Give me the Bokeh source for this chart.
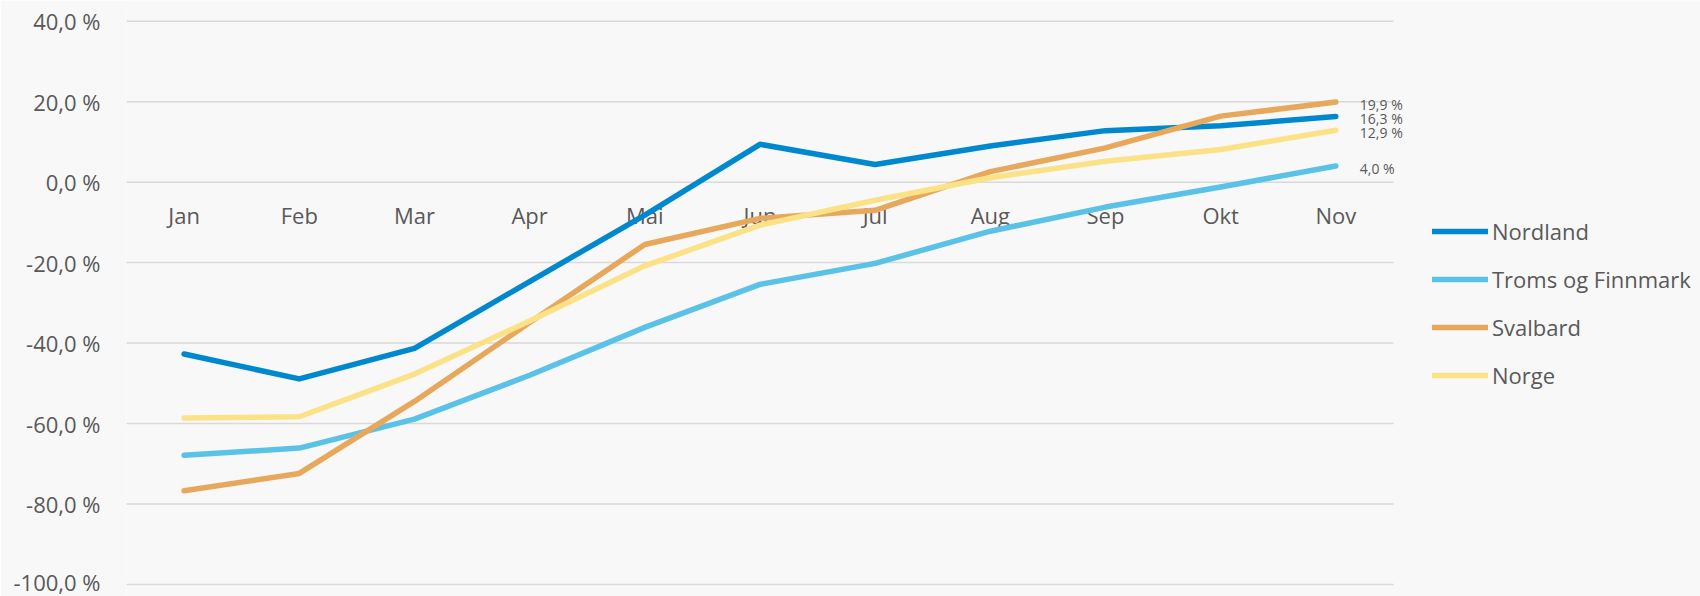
from bokeh.plotting import figure
from bokeh.models import Range1d, FixedTicker, Legend, LegendItem, Label, LinearAxis
from bokeh.embed import file_html
from bokeh.resources import INLINE

months = ["Jan", "Feb", "Mar", "Apr", "Mai", "Jun", "Jul", "Aug", "Sep", "Okt", "Nov"]
nordland = [-42.7, -48.9, -41.3, -24.7, -8.2, 9.4, 4.4, 9.0, 12.8, 14.0, 16.3]
troms = [-67.9, -66.1, -58.9, -48.0, -36.1, -25.4, -20.2, -12.2, -6.2, -1.2, 4.0]
svalbard = [-76.7, -72.4, -54.5, -34.9, -15.5, -9.0, -7.0, 2.6, 8.5, 16.4, 19.9]
norge = [-58.6, -58.3, -47.7, -34.5, -20.8, -10.7, -4.5, 1.1, 5.2, 8.1, 12.9]

series_names = ["Nordland", "Troms og Finnmark", "Svalbard", "Norge"]
series_values = [nordland, troms, svalbard, norge]
series_colors = ["#0088CE", "#5BC2E7", "#E8A85C", "#FCE287"]

y_ticks = [-100, -80, -60, -40, -20, 0, 20, 40]
y_tick_labels = ["-100,0 %", "-80,0 %", "-60,0 %", "-40,0 %", "-20,0 %", "0,0 %", "20,0 %", "40,0 %"]

FONT = "Open Sans"
TXT = "#595959"
BG = "#F8F8F8"

# category slots: month i sits at the middle of slot i
xpos = [i + 0.5 for i in range(len(months))]
n_slots = len(months)

p = figure(width=1700, height=596, x_range=Range1d(0, 13.666),
           y_range=Range1d(-102.98, 45.14), output_backend="svg",
           toolbar_location=None, min_border_left=126, min_border_right=0,
           min_border_top=0, min_border_bottom=0, x_axis_type=None)
p.background_fill_color = BG
p.border_fill_color = BG
p.outline_line_color = None
p.xgrid.grid_line_color = None
p.ygrid.grid_line_color = None

# horizontal gridlines spanning the category slots only
p.segment(x0=[0] * len(y_ticks), x1=[n_slots] * len(y_ticks), y0=y_ticks, y1=y_ticks,
          line_color="#D9D9D9", line_width=1.5, level="underlay")

# y axis
p.yaxis.ticker = FixedTicker(ticks=y_ticks)
p.yaxis.major_label_overrides = {t: l for t, l in zip(y_ticks, y_tick_labels)}
p.yaxis.axis_line_color = None
p.yaxis.major_tick_line_color = None
p.yaxis.minor_tick_line_color = None
p.yaxis.major_label_text_font = FONT
p.yaxis.major_label_text_font_size = "22px"
p.yaxis.major_label_text_color = TXT
p.yaxis.major_label_standoff = 20

# x axis crossing at 0
xa = LinearAxis(ticker=FixedTicker(ticks=xpos),
                major_label_overrides={x: m for x, m in zip(xpos, months)})
xa.fixed_location = 0
xa.axis_line_color = None
xa.major_tick_line_color = None
xa.minor_tick_line_color = None
xa.major_label_text_font = FONT
xa.major_label_text_font_size = "22px"
xa.major_label_text_color = TXT
xa.major_label_standoff = 12
xa.level = "underlay"
p.add_layout(xa, "below")

items = []
for name, vals, col in zip(series_names, series_values, series_colors):
    r = p.line(xpos, vals, line_color=col, line_width=5.5, line_cap="round", line_join="round")
    items.append(LegendItem(label=name, renderers=[r]))

# end labels
for vals in series_values:
    p.add_layout(Label(x=xpos[-1], y=vals[-1], text=("%.1f %%" % vals[-1]).replace(".", ","),
                       x_offset=24, y_offset=-2, text_font=FONT, text_font_size="14px",
                       text_color=TXT, text_baseline="middle", text_align="left"))

legend = Legend(items=items, location=(1306, 206), orientation="vertical")
legend.background_fill_alpha = 0
legend.border_line_color = None
legend.padding = 0
legend.margin = 0
legend.glyph_width = 56
legend.glyph_height = 30
legend.label_height = 30
legend.label_standoff = 4
legend.spacing = 18
legend.label_text_font = FONT
legend.label_text_font_size = "22px"
legend.label_text_color = TXT
p.add_layout(legend, "center")

open("out.html", "w").write(file_html(p, INLINE))
